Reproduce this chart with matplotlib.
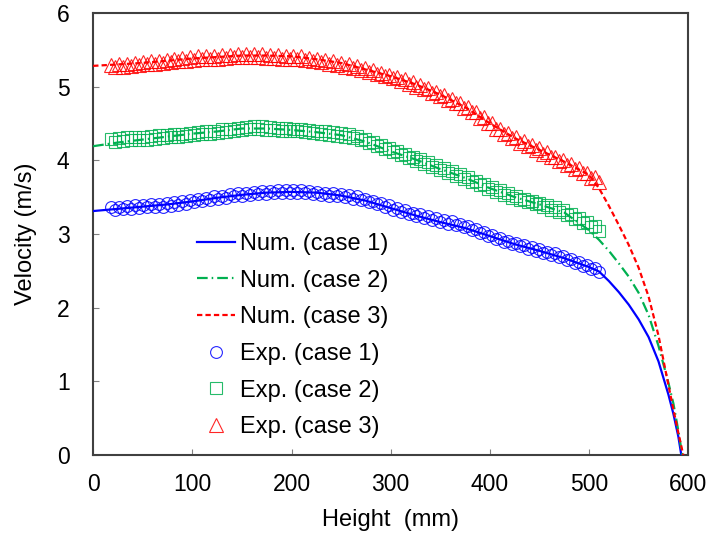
import numpy as np
import matplotlib.pyplot as plt

plt.rcParams['font.family'] = ['Liberation Sans', 'DejaVu Sans']

# numerical results (height in mm, velocity in m/s)
num_x1 = [0, 25, 50, 75, 100, 125, 150, 175, 200, 225, 250, 275, 300, 325, 350, 375, 400,
          425, 450, 475, 500, 510, 520, 530, 540, 550, 560, 570, 580, 585, 590, 593]
num_v1 = [3.31, 3.34, 3.37, 3.40, 3.44, 3.49, 3.53, 3.56, 3.57, 3.56, 3.52, 3.45, 3.35, 3.25,
          3.16, 3.08, 2.97, 2.86, 2.77, 2.67, 2.55, 2.49, 2.36, 2.21, 2.04, 1.84, 1.60, 1.27,
          0.82, 0.56, 0.25, 0.0]

num_x2 = [0, 25, 50, 75, 100, 125, 150, 175, 200, 225, 250, 275, 300, 325, 350, 375, 400,
          425, 450, 475, 500, 510, 520, 530, 540, 550, 560, 570, 580, 585, 590, 594]
num_v2 = [4.19, 4.24, 4.28, 4.32, 4.36, 4.39, 4.43, 4.43, 4.41, 4.38, 4.34, 4.25, 4.12, 4.01,
          3.88, 3.76, 3.62, 3.50, 3.40, 3.29, 3.05, 2.92, 2.77, 2.60, 2.42, 2.20, 1.90, 1.48,
          0.98, 0.70, 0.33, 0.0]

num_x3 = [0, 25, 50, 75, 100, 125, 150, 175, 200, 225, 250, 275, 300, 325, 350, 375, 400,
          425, 450, 475, 500, 510, 520, 530, 540, 550, 560, 570, 580, 585, 590, 595]
num_v3 = [5.28, 5.30, 5.32, 5.35, 5.38, 5.40, 5.42, 5.42, 5.41, 5.37, 5.32, 5.23, 5.14, 5.03,
          4.89, 4.72, 4.50, 4.30, 4.14, 3.98, 3.80, 3.62, 3.38, 3.12, 2.85, 2.54, 2.15, 1.62,
          0.95, 0.62, 0.30, 0.0]

# experimental results, measured every 4 mm from 18 to 510 mm
exp_x = np.arange(18, 511, 4)
exp_v1 = [3.37, 3.33, 3.37, 3.34, 3.38, 3.34, 3.39, 3.35, 3.39, 3.36,
          3.40, 3.36, 3.41, 3.37, 3.42, 3.38, 3.43, 3.39, 3.44, 3.41,
          3.46, 3.43, 3.48, 3.44, 3.49, 3.46, 3.51, 3.47, 3.52, 3.49,
          3.54, 3.51, 3.55, 3.52, 3.56, 3.53, 3.57, 3.54, 3.58, 3.54,
          3.58, 3.55, 3.59, 3.55, 3.59, 3.55, 3.59, 3.55, 3.59, 3.55,
          3.58, 3.54, 3.57, 3.53, 3.56, 3.52, 3.55, 3.51, 3.54, 3.50,
          3.53, 3.48, 3.51, 3.46, 3.48, 3.43, 3.45, 3.40, 3.42, 3.36,
          3.39, 3.33, 3.35, 3.30, 3.32, 3.27, 3.29, 3.24, 3.27, 3.21,
          3.24, 3.19, 3.21, 3.16, 3.19, 3.14, 3.17, 3.12, 3.14, 3.09,
          3.11, 3.05, 3.07, 3.01, 3.03, 2.97, 2.99, 2.93, 2.95, 2.89,
          2.91, 2.86, 2.88, 2.83, 2.85, 2.80, 2.82, 2.77, 2.79, 2.74,
          2.76, 2.71, 2.74, 2.68, 2.70, 2.64, 2.66, 2.60, 2.62, 2.56,
          2.58, 2.52, 2.54, 2.48]
exp_v2 = [4.29, 4.25, 4.30, 4.26, 4.31, 4.27, 4.31, 4.28, 4.32, 4.28,
          4.33, 4.29, 4.34, 4.30, 4.34, 4.31, 4.35, 4.32, 4.36, 4.33,
          4.37, 4.34, 4.38, 4.35, 4.39, 4.36, 4.40, 4.37, 4.42, 4.38,
          4.43, 4.39, 4.44, 4.41, 4.45, 4.42, 4.46, 4.42, 4.46, 4.41,
          4.45, 4.41, 4.44, 4.40, 4.44, 4.39, 4.43, 4.39, 4.42, 4.38,
          4.41, 4.37, 4.40, 4.36, 4.39, 4.34, 4.38, 4.33, 4.37, 4.32,
          4.35, 4.30, 4.33, 4.27, 4.29, 4.23, 4.25, 4.19, 4.21, 4.15,
          4.17, 4.11, 4.13, 4.07, 4.09, 4.03, 4.05, 3.99, 4.01, 3.95,
          3.97, 3.91, 3.93, 3.87, 3.89, 3.83, 3.85, 3.79, 3.81, 3.75,
          3.77, 3.71, 3.72, 3.66, 3.68, 3.61, 3.63, 3.57, 3.59, 3.53,
          3.55, 3.49, 3.52, 3.46, 3.48, 3.43, 3.45, 3.40, 3.42, 3.36,
          3.39, 3.33, 3.36, 3.30, 3.32, 3.25, 3.27, 3.20, 3.21, 3.15,
          3.16, 3.09, 3.11, 3.04]
exp_v3 = [5.29, 5.26, 5.30, 5.27, 5.31, 5.28, 5.32, 5.29, 5.33, 5.30,
          5.34, 5.31, 5.35, 5.32, 5.36, 5.33, 5.38, 5.34, 5.39, 5.35,
          5.40, 5.36, 5.41, 5.37, 5.41, 5.38, 5.42, 5.38, 5.43, 5.39,
          5.43, 5.40, 5.44, 5.40, 5.44, 5.40, 5.44, 5.40, 5.44, 5.39,
          5.43, 5.39, 5.43, 5.38, 5.42, 5.38, 5.41, 5.37, 5.41, 5.36,
          5.39, 5.34, 5.37, 5.33, 5.36, 5.31, 5.34, 5.29, 5.32, 5.27,
          5.30, 5.25, 5.28, 5.23, 5.25, 5.20, 5.22, 5.17, 5.19, 5.14,
          5.16, 5.11, 5.13, 5.08, 5.10, 5.04, 5.06, 5.00, 5.02, 4.96,
          4.98, 4.91, 4.93, 4.87, 4.88, 4.82, 4.83, 4.77, 4.78, 4.71,
          4.72, 4.65, 4.65, 4.57, 4.58, 4.50, 4.51, 4.43, 4.43, 4.36,
          4.37, 4.30, 4.31, 4.24, 4.26, 4.19, 4.20, 4.14, 4.16, 4.09,
          4.11, 4.04, 4.05, 3.99, 4.00, 3.93, 3.95, 3.88, 3.89, 3.82,
          3.83, 3.76, 3.77, 3.70]

blue, green, red = '#0000ff', '#00b050', '#ff0000'
fs = 17
tfs = 16.5

fig = plt.figure(figsize=(7.11, 5.34), dpi=100)
ax = fig.add_axes([0.131, 0.148, 0.837, 0.828])

ax.plot(num_x1, num_v1, color=blue, lw=1.6, label='Num. (case 1)', zorder=3)
ax.plot(num_x2, num_v2, color=green, lw=1.6, ls=(0, (4.8, 1.8, 0.7, 1.8)),
        label='Num. (case 2)', zorder=3)
ax.plot(num_x3, num_v3, color=red, lw=1.6, ls=(0, (2.4, 1.4)), label='Num. (case 3)', zorder=3)

mk = dict(ls='none', mfc='none', mew=0.8, alpha=0.85)
ax.plot(exp_x, exp_v1, marker='o', ms=8.5, mec=blue, label='Exp. (case 1)', **mk)
ax.plot(exp_x, exp_v2, marker='s', ms=8.5, mec=green, label='Exp. (case 2)', **mk)
ax.plot(exp_x, exp_v3, marker='^', ms=10, mec=red, label='Exp. (case 3)', **mk)

ax.set_xlim(0, 600)
ax.set_ylim(0, 6)
ax.set_xticks(range(0, 601, 100))
ax.set_yticks(range(0, 7))
ax.tick_params(direction='in', length=4, width=0.8, color='#808080', labelsize=tfs)
ax.tick_params(axis='x', pad=13)
ax.tick_params(axis='y', pad=17)
for s in ax.spines.values():
    s.set_color('#404040')
    s.set_linewidth(1.5)

ax.set_xlabel('Height  (mm)', fontsize=fs, labelpad=9)
ax.set_ylabel('Velocity (m/s)', fontsize=fs, labelpad=14)

ax.legend(loc='upper left', bbox_to_anchor=(197 / 711, 1 - 233 / 534),
          bbox_transform=fig.transFigure, frameon=False, fontsize=fs,
          handlelength=1.6, handletextpad=0.2, labelspacing=0.62, borderpad=0,
          borderaxespad=0)

fig.savefig('out.png', dpi=100)
